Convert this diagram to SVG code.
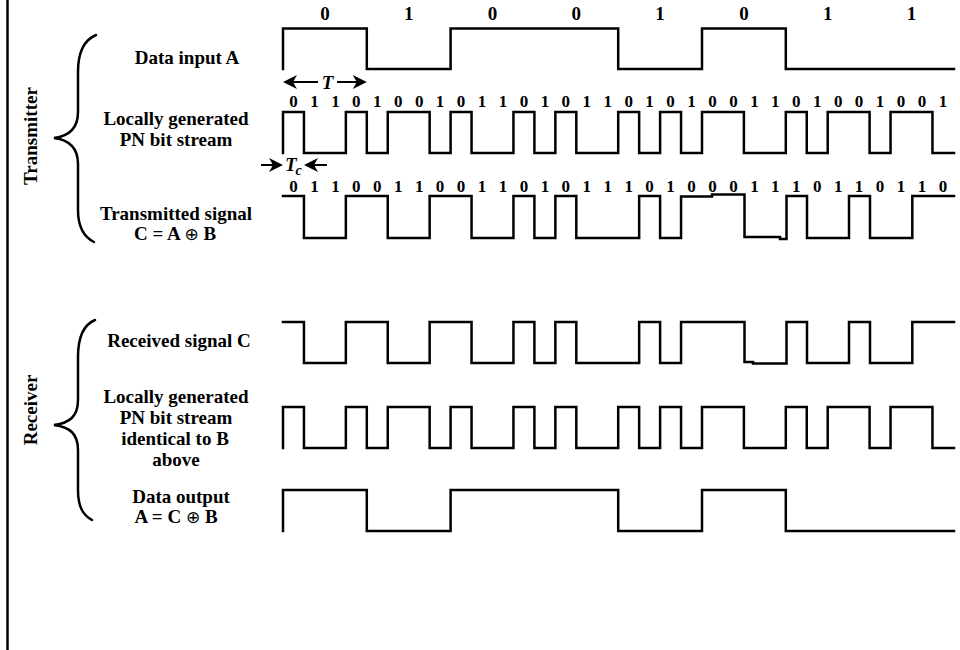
<svg xmlns="http://www.w3.org/2000/svg" xmlns:xlink="http://www.w3.org/1999/xlink" width="960" height="650" viewBox="0 0 960 650">
<style>
.w{fill:none;stroke:#000;stroke-width:2.5;stroke-linejoin:miter;stroke-linecap:square}
.br{fill:none;stroke:#000;stroke-width:2.5;stroke-linecap:round}
.ln{stroke:#000;stroke-width:2}
.t{font-family:"Liberation Serif","Times New Roman",serif;font-weight:bold;font-size:19px;text-anchor:middle;fill:#000}
.sym{font-family:"DejaVu Sans","Noto Sans",sans-serif;font-weight:normal;font-size:17px}
.bit{font-family:"Liberation Serif","Times New Roman",serif;font-weight:bold;font-size:17px;text-anchor:middle;fill:#000}
.dbit{font-family:"Liberation Serif","Times New Roman",serif;font-weight:bold;font-size:19px;text-anchor:middle;fill:#000}
.it{font-family:"Liberation Serif","Times New Roman",serif;font-weight:bold;font-style:italic;fill:#000}
</style>
<defs>
<path id="ah" d="M0,0 L-14,-7 L-10,0 L-14,7 Z" fill="#000"/>
</defs>
<rect x="0" y="0" width="960" height="650" fill="#fff"/>
<line x1="7.5" y1="0" x2="7.5" y2="650" stroke="#000" stroke-width="2.5"/>

<g id="transmitter-group">
<path class="br" d="M96,35 C84,40 78,52 78,72 L78,112 C78,128 70,136 54,138 C70,140 78,148 78,164 L78,210 C78,228 84,237 94,242"/>
<text class="t" transform="translate(37,136) rotate(-90)">Transmitter</text>
</g>
<g id="receiver-group">
<path class="br" d="M95,320 C83,325 78,337 78,357 L78,400 C78,416 70,423 54,425 C70,427 78,434 78,450 L78,490 C78,507 83,515 92,520"/>
<text class="t" transform="translate(37,410) rotate(-90)">Receiver</text>
</g>

<g id="data-input-a">
<text class="t" x="187" y="63.5">Data input A</text>
<text class="dbit" y="20" x="324.9 366.8 408.7 450.6 492.5 534.4 576.3 618.2 660.1 702 743.9 785.8 827.7 869.6 911.5">0 1 0 0 1 0 1 1</text>
<path class="w" d="M283,69 V28.5 H366.8 V69 H450.6 V28.5 H618.2 V69 H702 V28.5 H785.8 V69 H954"/>
</g>

<g id="period-t">
<line class="ln" x1="292" y1="82" x2="318" y2="82"/>
<line class="ln" x1="337" y1="82" x2="358" y2="82"/>
<use xlink:href="#ah" transform="translate(283,82) rotate(180)"/>
<use xlink:href="#ah" transform="translate(366.8,82)"/>
<text class="it" x="327.5" y="88.5" font-size="19" text-anchor="middle">T</text>
</g>

<g id="pn-stream-tx">
<text class="t" x="176" y="125">Locally generated</text>
<text class="t" x="176" y="146">PN bit stream</text>
<text class="bit" y="106.5" x="293.5 304 314.4 324.9 335.4 345.8 356.3 366.8 377.3 387.7 398.2 408.7 419.2 429.6 440.1 450.6 461.1 471.5 482 492.5 503 513.4 523.9 534.4 544.9 555.3 565.8 576.3 586.8 597.2 607.7 618.2 628.7 639.1 649.6 660.1 670.6 681 691.5 702 712.5 722.9 733.4 743.9 754.4 764.8 775.3 785.8 796.3 806.7 817.2 827.7 838.2 848.6 859.1 869.6 880.1 890.5 901 911.5 922 932.4 942.9">0 1 1 0 1 0 0 1 0 1 1 0 1 0 1 1 0 1 0 1 0 0 1 1 0 1 0 0 1 0 0 1</text>
<path class="w" d="M283,153 V112 H303.95 V153 H345.85 V112 H366.8 V153 H387.75 V112 H429.65 V153 H450.6 V112 H471.55 V153 H513.45 V112 H534.4 V153 H555.35 V112 H576.3 V153 H618.2 V112 H639.15 V153 H660.1 V112 H681.05 V153 H702 V112 H743.9 V153 H785.8 V112 H806.75 V153 H827.7 V112 H869.6 V153 H890.55 V112 H932.45 V153 H954"/>
</g>

<g id="chip-period-tc">
<line class="ln" x1="261" y1="165" x2="274" y2="165"/>
<line class="ln" x1="313" y1="165" x2="327" y2="165"/>
<use xlink:href="#ah" transform="translate(283,165)"/>
<use xlink:href="#ah" transform="translate(304,165) rotate(180)"/>
<text class="it" x="285" y="171" font-size="19">T</text>
<text class="it" x="295.5" y="175" font-size="14">c</text>
</g>

<g id="transmitted-signal">
<text class="t" x="176" y="220">Transmitted signal</text>
<text class="t" x="175" y="240">C = A <tspan class="sym">⊕</tspan> B</text>
<text class="bit" y="191.5" x="293.5 304 314.4 324.9 335.4 345.8 356.3 366.8 377.3 387.7 398.2 408.7 419.2 429.6 440.1 450.6 461.1 471.5 482 492.5 503 513.4 523.9 534.4 544.9 555.3 565.8 576.3 586.8 597.2 607.7 618.2 628.7 639.1 649.6 660.1 670.6 681 691.5 702 712.5 722.9 733.4 743.9 754.4 764.8 775.3 785.8 796.3 806.7 817.2 827.7 838.2 848.6 859.1 869.6 880.1 890.5 901 911.5 922 932.4 942.9">0 1 1 0 0 1 1 0 0 1 1 0 1 0 1 1 1 0 1 0 0 0 1 1 1 0 1 1 0 1 1 0</text>
<path class="w" d="M283,196 H303.95 V238 H345.85 V196 H387.75 V238 H429.65 V196 H471.55 V238 H513.45 V196 H534.4 V238 H555.35 V196 H576.3 V238 H639.15 V196 H660.1 V238 H681.05 V196.5 H712 V194.5 H744.5 V237 H780 V239 H786.5 V196 H807 V238 H849 V196 H870 V238 H912.3 V196 H954"/>
</g>

<g id="received-signal">
<text class="t" x="179" y="347">Received signal C</text>
<path class="w" d="M283,322 H303.95 V363 H345.85 V322 H387.75 V363 H429.65 V322 H471.55 V363 H513.45 V322 H534.4 V363 H555.35 V322 H576.3 V363 H639.15 V322 H660.1 V363 H681.05 V322 H744.5 V362 H753 V363.5 H786.5 V322 H807 V363 H849 V322 H870 V363 H912.3 V322 H954"/>
</g>

<g id="pn-stream-rx">
<text class="t" x="176" y="403">Locally generated</text>
<text class="t" x="176" y="424">PN bit stream</text>
<text class="t" x="175" y="445">identical to B</text>
<text class="t" x="176" y="466">above</text>
<path class="w" d="M283,448 V407 H303.95 V448 H345.85 V407 H366.8 V448 H387.75 V407 H429.65 V448 H450.6 V407 H471.55 V448 H513.45 V407 H534.4 V448 H555.35 V407 H576.3 V448 H618.2 V407 H639.15 V448 H660.1 V407 H681.05 V448 H702 V407 H743.9 V448 H785.8 V407 H806.75 V448 H827.7 V407 H869.6 V448 H890.55 V407 H932.45 V448 H954"/>
</g>

<g id="data-output">
<text class="t" x="181" y="503">Data output</text>
<text class="t" x="176" y="523">A = C <tspan class="sym">⊕</tspan> B</text>
<path class="w" d="M283,531 V490 H366.8 V531 H450.6 V490 H618.2 V531 H702 V490 H785.8 V531 H954"/>
</g>
</svg>
